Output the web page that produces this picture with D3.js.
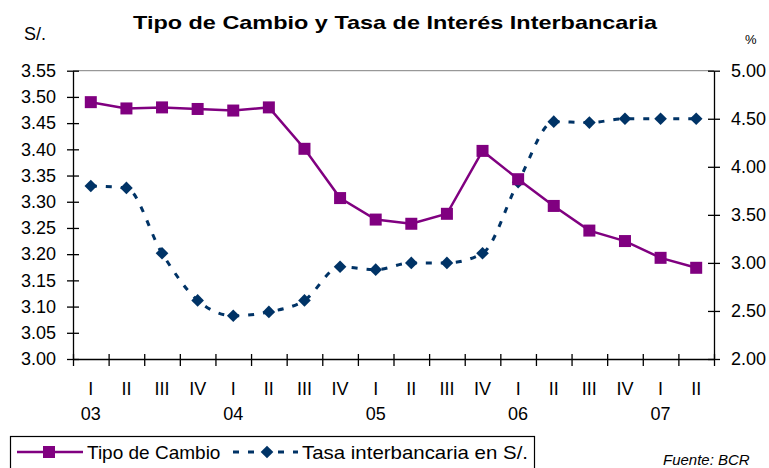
<!DOCTYPE html>
<html>
<head>
<meta charset="utf-8">
<script src="https://cdn.jsdelivr.net/npm/d3@7"></script>
<style>
  body { margin: 0; background: #fff; }
  text { font-family: Arial, "Liberation Sans", sans-serif; }
</style>
</head>
<body>
<svg id="canvas" width="769" height="468"></svg>
<script>
// data
const quarters = ['I','II','III','IV','I','II','III','IV','I','II','III','IV','I','II','III','IV','I','II']
const years = ['03','04','05','06','07']
const tipoCambio = [3.490,3.478,3.480,3.477,3.474,3.480,3.401,3.307,3.266,3.258,3.277,3.397,3.343,3.292,3.245,3.225,3.193,3.174]
const tasaInterbancaria = [3.80,3.78,3.10,2.61,2.45,2.49,2.61,2.96,2.93,3.00,3.00,3.10,3.84,4.47,4.46,4.50,4.50,4.50]
const leftTicks = [3.00,3.05,3.10,3.15,3.20,3.25,3.30,3.35,3.40,3.45,3.50,3.55]
const rightTicks = [2.00,2.50,3.00,3.50,4.00,4.50,5.00]

let canvas = d3.select('#canvas')

const plotLeft = 73, plotRight = 714, plotTop = 70.7, plotBottom = 359
const purple = '#800080', navy = '#003366'

let idx = d3.range(quarters.length)
let x = d3.scaleBand().domain(idx).range([plotLeft, plotRight])
let xEdge = d3.scaleLinear().domain([0, quarters.length]).range([plotLeft, plotRight])
let yL = d3.scaleLinear().domain([3.0, 3.55]).range([plotBottom, plotTop])
let yR = d3.scaleLinear().domain([2.0, 5.0]).range([plotBottom, plotTop])

// title and units
canvas.append('text')
    .attr('x', 395).attr('y', 29)
    .attr('text-anchor', 'middle')
    .attr('font-size', 19).attr('font-weight', 'bold')
    .attr('textLength', 524).attr('lengthAdjust', 'spacingAndGlyphs')
    .text('Tipo de Cambio y Tasa de Interés Interbancaria')
canvas.append('text').attr('x', 24).attr('y', 40).attr('font-size', 18).text('S/.')
canvas.append('text').attr('x', 745).attr('y', 44).attr('font-size', 13).text('%')

// top border of plot area
canvas.append('line')
    .attr('x1', plotLeft).attr('x2', plotRight).attr('y1', plotTop).attr('y2', plotTop)
    .attr('stroke', '#808080')

// left axis
let gL = canvas.append('g').attr('transform', `translate(${plotLeft},0)`)
    .call(d3.axisLeft(yL).tickValues(leftTicks).tickFormat(d3.format('.2f')).tickSizeInner(6).tickSizeOuter(0).tickPadding(11))
gL.selectAll('.tick line').attr('x1', 6)

// right axis
let gR = canvas.append('g').attr('transform', `translate(${plotRight},0)`)
    .call(d3.axisRight(yR).tickValues(rightTicks).tickFormat(d3.format('.2f')).tickSizeInner(6).tickSizeOuter(0).tickPadding(11))
gR.selectAll('.tick line').attr('x1', -6)

// bottom axis: ticks on category edges
let gB = canvas.append('g').attr('transform', `translate(0,${plotBottom})`)
    .call(d3.axisBottom(xEdge).ticks(quarters.length).tickFormat('').tickSizeInner(7).tickSizeOuter(0))
gB.selectAll('.tick line').attr('y1', -5)

canvas.selectAll('.domain, .tick line').attr('stroke', '#000').attr('stroke-width', 1.3)
canvas.selectAll('.tick text').attr('font-size', 18).attr('fill', '#000').attr('font-family', 'Arial, "Liberation Sans", sans-serif')

// quarter labels
canvas.selectAll('.q').data(idx).enter().append('text')
    .attr('class', 'q')
    .attr('x', (i) => x(i) + x.bandwidth() / 2)
    .attr('y', 395)
    .attr('text-anchor', 'middle')
    .attr('font-size', 18)
    .text((i) => quarters[i])

// year labels under the first quarter of each year
canvas.selectAll('.yr').data(years).enter().append('text')
    .attr('class', 'yr')
    .attr('x', (d, j) => x(j * 4) + x.bandwidth() / 2)
    .attr('y', 420)
    .attr('text-anchor', 'middle')
    .attr('font-size', 18)
    .text((d) => d)

// tasa interbancaria (smoothed, dashed)
let lineR = d3.line()
    .x((d, i) => x(i) + x.bandwidth() / 2)
    .y((d) => yR(d))
    .curve(d3.curveMonotoneX)
canvas.append('path')
    .attr('d', lineR(tasaInterbancaria))
    .attr('fill', 'none').attr('stroke', navy)
    .attr('stroke-width', 3).attr('stroke-dasharray', '6,9')

let diamond = d3.symbol().type(d3.symbolSquare).size(80)
canvas.selectAll('.dia').data(tasaInterbancaria).enter().append('path')
    .attr('class', 'dia')
    .attr('d', diamond)
    .attr('transform', (d, i) => `translate(${x(i) + x.bandwidth() / 2},${yR(d)}) rotate(45)`)
    .attr('fill', navy)

// tipo de cambio
let lineL = d3.line()
    .x((d, i) => x(i) + x.bandwidth() / 2)
    .y((d) => yL(d))
canvas.append('path')
    .attr('d', lineL(tipoCambio))
    .attr('fill', 'none').attr('stroke', purple).attr('stroke-width', 2.5)

canvas.selectAll('.sq').data(tipoCambio).enter().append('rect')
    .attr('class', 'sq')
    .attr('x', (d, i) => x(i) + x.bandwidth() / 2 - 6)
    .attr('y', (d) => yL(d) - 6)
    .attr('width', 12).attr('height', 12)
    .attr('fill', purple)

// legend
canvas.append('rect')
    .attr('x', 10.5).attr('y', 436.5).attr('width', 524).attr('height', 40)
    .attr('fill', '#fff').attr('stroke', '#000').attr('stroke-width', 1.2)
canvas.append('line').attr('x1', 17).attr('x2', 83).attr('y1', 452).attr('y2', 452)
    .attr('stroke', purple).attr('stroke-width', 2.5)
canvas.append('rect').attr('x', 43).attr('y', 446).attr('width', 12).attr('height', 12).attr('fill', purple)
canvas.append('text').attr('x', 87).attr('y', 459).attr('font-size', 19).text('Tipo de Cambio')

canvas.append('line').attr('x1', 233).attr('x2', 298).attr('y1', 452).attr('y2', 452)
    .attr('stroke', navy).attr('stroke-width', 3).attr('stroke-dasharray', '6,9')
canvas.append('path').attr('d', diamond).attr('transform', 'translate(267,452) rotate(45)').attr('fill', navy)
canvas.append('text').attr('x', 302).attr('y', 459).attr('font-size', 19)
    .attr('textLength', 226).attr('lengthAdjust', 'spacingAndGlyphs')
    .text('Tasa interbancaria en S/.')

canvas.append('text').attr('x', 663).attr('y', 465)
    .attr('font-size', 15).attr('font-style', 'italic').text('Fuente: BCR')
</script>
</body>
</html>
